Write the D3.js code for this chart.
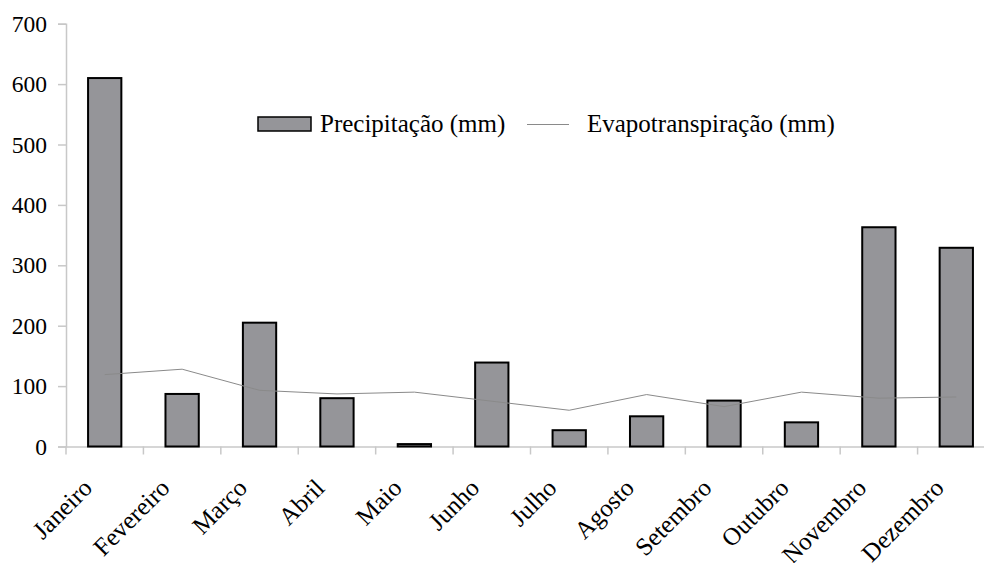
<!DOCTYPE html>
<html><head><meta charset="utf-8">
<script src="https://cdn.jsdelivr.net/npm/d3@7"></script>
<style>body{margin:0;background:#fff}svg{display:block}svg text{font-family:"Liberation Serif","Times New Roman",Times,serif}</style>
</head><body>
<script>
const months = ["Janeiro","Fevereiro","Março","Abril","Maio","Junho","Julho","Agosto","Setembro","Outubro","Novembro","Dezembro"];
const precipitacao = [610, 87, 205, 80, 4, 139, 27, 50, 76, 40, 363, 329];
const evapotranspiracao = [119, 128, 93, 87, 90, 75, 60, 86, 66, 90, 80, 82];
const yTicks = [0, 100, 200, 300, 400, 500, 600, 700];
const seriesNames = ["Precipitação (mm)", "Evapotranspiração (mm)"];

const W = 984, H = 563;
const svg = d3.select("body").append("svg").attr("width", W).attr("height", H);
const font = '"Liberation Serif","Times New Roman",Times,serif';

const x = d3.scaleBand().domain(months).range([66, 995]).paddingInner(0).paddingOuter(0);
const y = d3.scaleLinear().domain([0, 700]).range([446.5, 23.7]);
const axisColor = "#c8c8c8";

// y axis
const yAxis = svg.append("g").attr("transform", "translate(66,0)")
  .call(d3.axisLeft(y).tickValues(yTicks).tickSize(8).tickPadding(11).tickFormat(d3.format("d")));
yAxis.attr("font-family", null);
yAxis.select(".domain").attr("stroke", axisColor).attr("stroke-width", 1.5);
yAxis.selectAll(".tick line").attr("stroke", axisColor).attr("stroke-width", 1.5);
yAxis.selectAll("text").style("font-family", font).attr("font-size", 23.5).attr("fill", "#000");

// x axis
const xAxis = svg.append("g").attr("transform", `translate(0,${y(0)})`)
  .call(d3.axisBottom(x).tickSize(0).tickFormat(""));
xAxis.select(".domain").attr("stroke", axisColor).attr("stroke-width", 1.5);
xAxis.selectAll(".tick").remove();
const bounds = months.map(m => x(m)).concat([x(months[months.length-1]) + x.bandwidth()]);
svg.append("g").selectAll("line").data(bounds).join("line")
  .attr("x1", d => d).attr("x2", d => d)
  .attr("y1", y(0)).attr("y2", y(0) + 8)
  .attr("stroke", axisColor).attr("stroke-width", 1.5);

// month labels
svg.append("g").selectAll("text").data(months).join("text")
  .attr("transform", d => `translate(${x(d) + x.bandwidth()/2 - 11},${y(0) + 43}) rotate(-45)`)
  .attr("text-anchor", "end")
  .style("font-family", font).attr("font-size", 25).attr("fill", "#000")
  .text(d => d);

// bars
const bw = x.bandwidth() * 0.43;
svg.append("g").selectAll("rect").data(precipitacao).join("rect")
  .attr("x", (d, i) => x(months[i]) + x.bandwidth()/2 - bw/2)
  .attr("y", d => y(d))
  .attr("width", bw)
  .attr("height", d => y(0) - y(d))
  .attr("fill", "#959599").attr("stroke", "#000").attr("stroke-width", 2);

// line
const line = d3.line().x((d, i) => x(months[i]) + x.bandwidth()/2).y(d => y(d));
svg.append("path").datum(evapotranspiracao).attr("d", line)
  .attr("fill", "none").attr("stroke", "#8a8a8a").attr("stroke-width", 1);

// legend
const lg = svg.append("g");
lg.append("rect").attr("x", 258).attr("y", 117).attr("width", 53).attr("height", 14)
  .attr("fill", "#959599").attr("stroke", "#000").attr("stroke-width", 1.5);
lg.append("text").attr("x", 320).attr("y", 132).style("font-family", font).attr("font-size", 25)
  .attr("fill", "#000").text(seriesNames[0]);
lg.append("line").attr("x1", 527).attr("x2", 569).attr("y1", 124.5).attr("y2", 124.5)
  .attr("stroke", "#8a8a8a").attr("stroke-width", 1);
lg.append("text").attr("x", 587).attr("y", 132).style("font-family", font).attr("font-size", 25)
  .attr("fill", "#000").text(seriesNames[1]);
</script>
</body></html>
